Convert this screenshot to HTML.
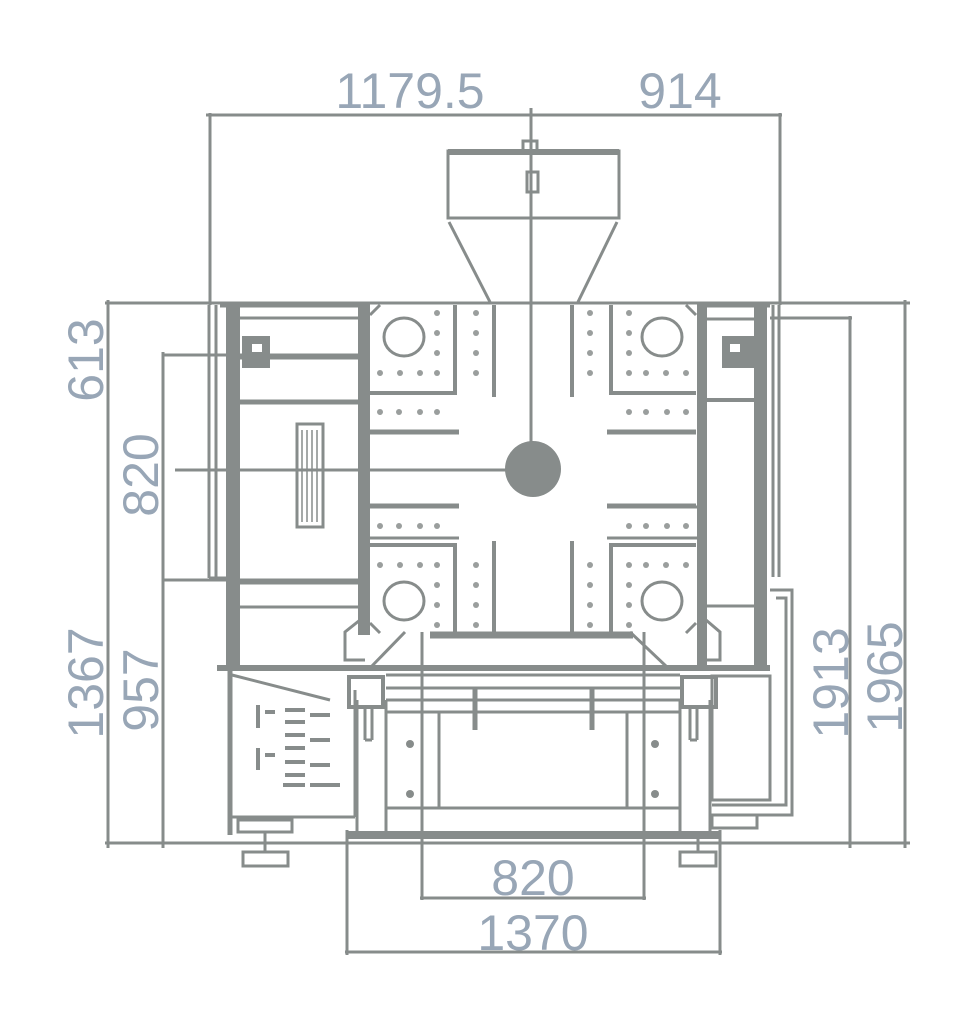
<!DOCTYPE html>
<html><head><meta charset="utf-8"><style>
html,body{margin:0;padding:0;background:#fff;}
svg{display:block;}
text{font-family:"Liberation Sans",sans-serif;font-size:50px;fill:#98a6b6;}
</style></head><body>
<svg width="963" height="1016" viewBox="0 0 963 1016" xmlns="http://www.w3.org/2000/svg">
<g stroke="#878c8b" stroke-width="3" fill="none">
<line x1="206" y1="115" x2="782" y2="115"/>
<line x1="210" y1="113" x2="210" y2="305"/>
<line x1="780" y1="113" x2="780" y2="305"/>
<line x1="531" y1="108" x2="531" y2="468"/>
<rect x="448" y="151" width="171" height="67"/>
<line x1="448" y1="152" x2="619" y2="152" stroke-width="6"/>
<rect x="523" y="141" width="14" height="10"/>
<rect x="527" y="172" width="11" height="20"/>
<line x1="449" y1="222" x2="490" y2="302"/>
<line x1="617" y1="222" x2="578" y2="302"/>
<line x1="105" y1="303" x2="910" y2="303"/>
<line x1="108" y1="300" x2="108" y2="848"/>
<line x1="163" y1="352" x2="163" y2="848"/>
<line x1="163" y1="355" x2="360" y2="355"/>
<line x1="175" y1="470" x2="520" y2="470"/>
<line x1="163" y1="580" x2="360" y2="580"/>
<line x1="105" y1="843" x2="910" y2="843"/>
<line x1="905" y1="300" x2="905" y2="848"/>
<line x1="850" y1="316" x2="850" y2="848"/>
<line x1="770" y1="318" x2="852" y2="318"/>
<line x1="209" y1="305" x2="209" y2="578"/>
<line x1="216" y1="305" x2="216" y2="578"/>
<line x1="209" y1="578" x2="226" y2="578"/>
<rect x="226" y="305" width="14" height="362" fill="#878c8b" stroke="none"/>
<rect x="358" y="305" width="12" height="330" fill="#878c8b" stroke="none"/>
<line x1="220" y1="305" x2="370" y2="305" stroke-width="5"/>
<line x1="240" y1="318" x2="358" y2="318"/>
<line x1="240" y1="358" x2="358" y2="358"/>
<line x1="240" y1="402" x2="358" y2="402" stroke-width="5"/>
<line x1="240" y1="583" x2="358" y2="583"/>
<line x1="240" y1="607" x2="358" y2="607"/>
<rect x="297" y="424" width="26" height="103"/>
<g stroke-width="1.5"><line x1="302" y1="430" x2="302" y2="522"/><line x1="307" y1="430" x2="307" y2="522"/><line x1="312" y1="430" x2="312" y2="522"/><line x1="317" y1="430" x2="317" y2="522"/></g>
<rect x="242" y="336" width="28" height="32" fill="#878c8b" stroke="none"/>
<rect x="252" y="344" width="10" height="8" fill="#fff" stroke="none"/>
<rect x="697" y="305" width="10" height="362" fill="#878c8b" stroke="none"/>
<rect x="754" y="305" width="13" height="362" fill="#878c8b" stroke="none"/>
<line x1="697" y1="305" x2="770" y2="305" stroke-width="5"/>
<line x1="707" y1="319" x2="754" y2="319"/>
<line x1="707" y1="400" x2="754" y2="400" stroke-width="4"/>
<line x1="707" y1="606" x2="754" y2="606"/>
<line x1="773" y1="305" x2="773" y2="577"/>
<line x1="779" y1="305" x2="779" y2="577"/>
<rect x="722" y="336" width="32" height="32" fill="#878c8b" stroke="none"/>
<rect x="730" y="344" width="10" height="8" fill="#fff" stroke="none"/>
<polyline points="770,590 792,590 792,815 712,815"/>
<polyline points="776,598 786,598 786,805 712,805"/>
<rect x="712" y="676" width="58" height="124"/>
<rect x="712" y="815" width="45" height="13"/>
<g id="q">
<line x1="370" y1="393" x2="457" y2="393" stroke-width="4"/>
<line x1="455" y1="305" x2="455" y2="393" stroke-width="4"/>
<line x1="494" y1="305" x2="494" y2="397" stroke-width="4"/>
<ellipse cx="404" cy="337" rx="20" ry="19"/>
<line x1="370" y1="432" x2="459" y2="432" stroke-width="5"/>
<line x1="370" y1="315" x2="380" y2="305"/>
</g>
<use href="#q" transform="translate(1066,0) scale(-1,1)"/>
<use href="#q" transform="translate(0,938) scale(1,-1)"/>
<use href="#q" transform="translate(1066,938) scale(-1,-1)"/>
<line x1="370" y1="507" x2="459" y2="507"/>
<line x1="607" y1="507" x2="697" y2="507"/>
<line x1="370" y1="538" x2="459" y2="538"/>
<line x1="607" y1="538" x2="697" y2="538"/>
<line x1="430" y1="635" x2="633" y2="635" stroke-width="7"/>
<circle cx="533" cy="469" r="28" fill="#878c8b" stroke="none"/>
<line x1="405" y1="632" x2="370" y2="668"/>
<line x1="630" y1="632" x2="668" y2="668"/>
<polyline points="365,660 345,660 345,632 360,620"/>
<polyline points="700,660 720,660 720,632 706,620"/>
<line x1="217" y1="668" x2="770" y2="668" stroke-width="6"/>
<line x1="230" y1="668" x2="230" y2="835" stroke-width="5"/>
<line x1="230" y1="817" x2="355" y2="817"/>
<line x1="355" y1="690" x2="355" y2="817"/>
<line x1="232" y1="675" x2="330" y2="700"/>
<rect x="238" y="820" width="54" height="12"/>
<line x1="265" y1="832" x2="265" y2="852"/>
<rect x="243" y="852" width="45" height="14"/>
<rect x="680" y="852" width="36" height="14"/>
<line x1="698" y1="832" x2="698" y2="852"/>
<g stroke-width="4">
<line x1="285" y1="710" x2="305" y2="710"/><line x1="285" y1="722" x2="305" y2="722"/>
<line x1="285" y1="735" x2="305" y2="735"/><line x1="285" y1="748" x2="305" y2="748"/>
<line x1="285" y1="762" x2="305" y2="762"/><line x1="285" y1="775" x2="305" y2="775"/>
<line x1="310" y1="715" x2="330" y2="715"/><line x1="310" y1="740" x2="330" y2="740"/>
<line x1="310" y1="765" x2="330" y2="765"/><line x1="310" y1="785" x2="340" y2="785"/>
<line x1="283" y1="785" x2="305" y2="785"/>
<line x1="258" y1="705" x2="258" y2="728"/><line x1="258" y1="748" x2="258" y2="770"/>
<line x1="265" y1="712" x2="275" y2="712"/><line x1="265" y1="755" x2="275" y2="755"/>
</g>
<line x1="347" y1="835" x2="720" y2="835" stroke-width="8"/>
<line x1="347" y1="830" x2="347" y2="955"/>
<line x1="720" y1="830" x2="720" y2="955"/>
<line x1="422" y1="632" x2="422" y2="900"/>
<line x1="644" y1="632" x2="644" y2="900"/>
<line x1="357" y1="700" x2="357" y2="835"/>
<line x1="386" y1="700" x2="386" y2="835"/>
<line x1="680" y1="700" x2="680" y2="835"/>
<line x1="710" y1="700" x2="710" y2="835"/>
<rect x="349" y="677" width="34" height="30" stroke-width="4"/>
<rect x="682" y="677" width="34" height="30" stroke-width="4"/>
<line x1="365" y1="707" x2="365" y2="740"/><line x1="372" y1="707" x2="372" y2="740"/><line x1="365" y1="740" x2="372" y2="740"/>
<line x1="690" y1="707" x2="690" y2="740"/><line x1="697" y1="707" x2="697" y2="740"/><line x1="690" y1="740" x2="697" y2="740"/>
<line x1="386" y1="675" x2="680" y2="675"/>
<line x1="386" y1="688" x2="680" y2="688"/>
<line x1="386" y1="700" x2="680" y2="700"/>
<line x1="386" y1="712" x2="680" y2="712"/>
<line x1="386" y1="808" x2="680" y2="808"/>
<rect x="439" y="712" width="188" height="96"/>
<line x1="475" y1="688" x2="475" y2="730" stroke-width="5"/>
<line x1="592" y1="688" x2="592" y2="730" stroke-width="5"/>
<line x1="420" y1="898" x2="646" y2="898"/>
<line x1="345" y1="952" x2="722" y2="952"/>
</g>
<g fill="#878c8b">
<circle cx="410" cy="744" r="4"/><circle cx="410" cy="794" r="4"/>
<circle cx="655" cy="744" r="4"/><circle cx="655" cy="794" r="4"/>
</g>
<g fill="#9a9e9d" id="dots">
<circle cx="437" cy="313" r="3"/><circle cx="437" cy="333" r="3"/><circle cx="437" cy="353" r="3"/><circle cx="437" cy="373" r="3"/>
<circle cx="476" cy="313" r="3"/><circle cx="476" cy="333" r="3"/><circle cx="476" cy="353" r="3"/><circle cx="476" cy="373" r="3"/>
<circle cx="380" cy="373" r="3"/><circle cx="400" cy="373" r="3"/><circle cx="420" cy="373" r="3"/>
<circle cx="380" cy="412" r="3"/><circle cx="399" cy="412" r="3"/><circle cx="420" cy="412" r="3"/><circle cx="437" cy="412" r="3"/>
</g>
<use href="#dots" transform="translate(1066,0) scale(-1,1)"/>
<use href="#dots" transform="translate(0,938) scale(1,-1)"/>
<use href="#dots" transform="translate(1066,938) scale(-1,-1)"/>
<text x="410" y="108" text-anchor="middle">1179.5</text>
<text x="680" y="108" text-anchor="middle">914</text>
<text x="533" y="895" text-anchor="middle">820</text>
<text x="533" y="950" text-anchor="middle">1370</text>
<text transform="translate(103,360) rotate(-90)" text-anchor="middle">613</text>
<text transform="translate(103,683) rotate(-90)" text-anchor="middle">1367</text>
<text transform="translate(158,475) rotate(-90)" text-anchor="middle">820</text>
<text transform="translate(158,690) rotate(-90)" text-anchor="middle">957</text>
<text transform="translate(848,683) rotate(-90)" text-anchor="middle">1913</text>
<text transform="translate(902,677) rotate(-90)" text-anchor="middle">1965</text>
</svg>
</body></html>
